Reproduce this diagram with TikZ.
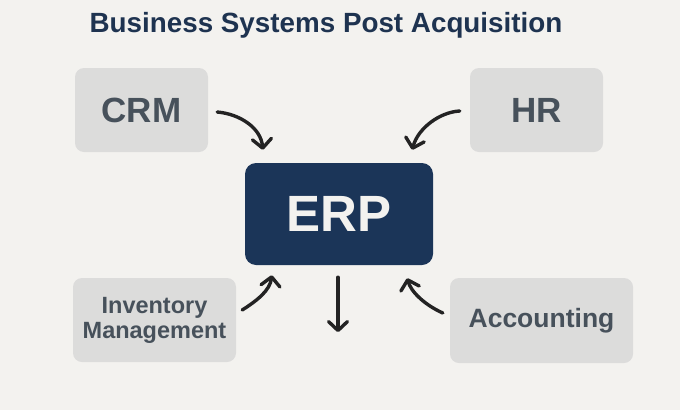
\documentclass[tikz,border=0pt]{standalone}
\usepackage{fontspec}
\setmainfont{Liberation Sans}
\usetikzlibrary{arrows.meta,calc}

\definecolor{pagebg}{HTML}{F3F2EF}
\definecolor{boxgray}{HTML}{DCDCDB}
\definecolor{boxtext}{HTML}{47515B}
\definecolor{navy}{HTML}{1B3558}
\definecolor{titlenavy}{HTML}{1E3350}
\definecolor{ink}{HTML}{232323}

\tikzset{
  sysbox/.style={fill=boxgray, rounded corners=9pt, text=boxtext,
    font=\bfseries, align=center, inner sep=0pt},
  hubbox/.style={fill=navy, rounded corners=11pt, text=pagebg,
    inner sep=0pt},
  flow/.style={draw=ink, line width=3.4pt, line cap=round,
    -{Straight Barb[length=9pt, width=19pt, line cap=round, line join=round]}}
}

\begin{document}
\begin{tikzpicture}[x=1pt, y=-1pt]
  % canvas
  \fill[pagebg] (0,0) rectangle (680,410);
  \useasboundingbox (0,0) rectangle (680,410);

  % heading
  \node[text=titlenavy, font=\fontsize{27.8}{32}\selectfont\bfseries]
    (title) at (326,25) {Business Systems Post Acquisition};

  % central system
  \node[hubbox, minimum width=188pt, minimum height=102pt,
        font=\fontsize{51}{56}\selectfont\bfseries] (erp) at (339,214) {ERP};

  % surrounding systems
  \node[sysbox, minimum width=133pt, minimum height=84pt,
        font=\fontsize{35}{40}\selectfont\bfseries] (crm) at (141.5,110) {CRM};
  \node[sysbox, minimum width=133pt, minimum height=84pt,
        font=\fontsize{35}{40}\selectfont\bfseries] (hr) at (536.5,110) {HR};
  \node[sysbox, minimum width=163pt, minimum height=84pt,
        font=\fontsize{23.5}{26}\selectfont\bfseries] (inv) at (154.5,320)
        {\raisebox{-3pt}{\shortstack{Inventory\\[1pt]Management}}};
  \node[sysbox, minimum width=183pt, minimum height=85pt,
        font=\fontsize{26.5}{30}\selectfont\bfseries] (acc) at (541.5,320.5)
        {\raisebox{-2pt}{Accounting}};

  % connector end points
  \coordinate (crmOut) at ($(crm.east)+(9,2)$);
  \coordinate (crmIn)  at ($(erp.north west)+(18,-13)$);
  \coordinate (hrOut)  at ($(hr.west)+(-10,1)$);
  \coordinate (hrIn)   at ($(erp.north east)+(-21,-13)$);
  \coordinate (invOut) at ($(inv.east)+(6,-10)$);
  \coordinate (invIn)  at ($(erp.south west)+(27,10)$);
  \coordinate (accOut) at ($(acc.west)+(-7,-7.5)$);
  \coordinate (accIn)  at ($(erp.south east)+(-26,13)$);
  \coordinate (erpOut) at ($(erp.south)+(-1,12)$);
  \coordinate (erpEnd) at ($(erp.south)+(-1,67)$);

  % connectors
  \draw[flow] (crmOut) .. controls (240,114) and (261,128) .. (crmIn);
  \draw[flow] (hrOut) .. controls (440,112) and (418,128) .. (hrIn);
  \draw[flow] (invOut) .. controls (258,300) and (270,290) .. (invIn);
  \draw[flow] (accOut) .. controls (425,305) and (411,292) .. (accIn);
  \draw[flow] (erpOut) -- (erpEnd);
\end{tikzpicture}
\end{document}
